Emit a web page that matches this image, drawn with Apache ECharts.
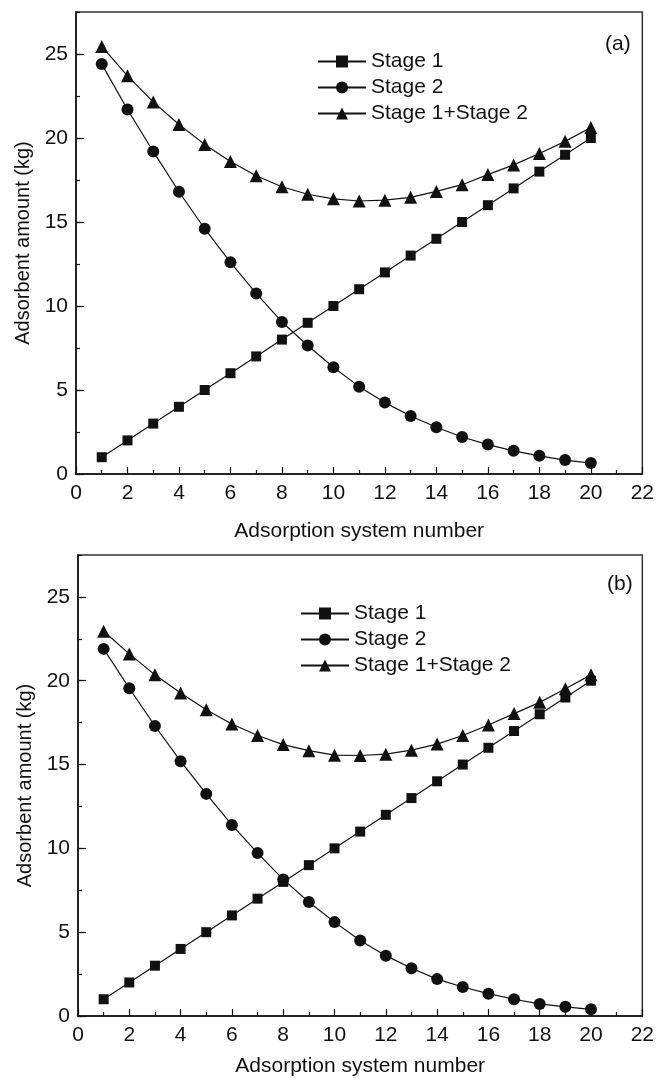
<!DOCTYPE html>
<html>
<head>
<meta charset="utf-8">
<script src="https://cdn.jsdelivr.net/npm/echarts@6/dist/echarts.min.js"></script>
<style>
  html, body { margin: 0; padding: 0; background: #fff; }
  #main { width: 657px; height: 1082px; }
</style>
</head>
<body>
<div id="main"></div>
<script>
// adsorption system number (x)
let systemNo = [1, 2, 3, 4, 5, 6, 7, 8, 9, 10, 11, 12, 13, 14, 15, 16, 17, 18, 19, 20];

// panel (a)
let stage1A = [1, 2, 3, 4, 5, 6, 7, 8, 9, 10, 11, 12, 13, 14, 15, 16, 17, 18, 19, 20];
let stage2A = [24.4, 21.7, 19.2, 16.8, 14.6, 12.6, 10.75, 9.05, 7.65, 6.35, 5.2, 4.25, 3.45, 2.78, 2.2, 1.75, 1.38, 1.08, 0.83, 0.65];
let totalA = [25.45, 23.7, 22.15, 20.8, 19.62, 18.6, 17.75, 17.1, 16.65, 16.38, 16.25, 16.3, 16.47, 16.82, 17.22, 17.82, 18.4, 19.08, 19.8, 20.62];

// panel (b)
let stage1B = [1, 2, 3, 4, 5, 6, 7, 8, 9, 10, 11, 12, 13, 14, 15, 16, 17, 18, 19, 20];
let stage2B = [21.9, 19.55, 17.3, 15.2, 13.25, 11.4, 9.72, 8.15, 6.8, 5.6, 4.5, 3.6, 2.85, 2.2, 1.73, 1.33, 1.0, 0.72, 0.55, 0.4];
let totalB = [22.95, 21.6, 20.35, 19.27, 18.27, 17.42, 16.73, 16.19, 15.83, 15.56, 15.54, 15.62, 15.86, 16.22, 16.73, 17.36, 18.04, 18.71, 19.52, 20.35];

let seriesNames = ['Stage 1', 'Stage 2', 'Stage 1+Stage 2'];
let panelLabels = ['(a)', '(b)'];

let font = 'Liberation Sans, Arial, sans-serif';
let ink = '#111';
let fs = 21;

let pairs = arr => systemNo.map((x, i) => [x, arr[i]]);

let xAxisFor = (gridIndex, gap) => ({
    type: 'value',
    gridIndex: gridIndex,
    min: 0,
    max: 22,
    interval: 2,
    name: 'Adsorption system number',
    nameLocation: 'middle',
    nameGap: gap,
    nameTextStyle: { fontFamily: font, fontSize: fs, color: ink },
    axisLine: { show: true, lineStyle: { color: ink, width: 1.5 } },
    axisTick: { show: true, inside: true, length: 7, lineStyle: { color: ink, width: 1.2 } },
    minorTick: { show: true, splitNumber: 2, length: 4, lineStyle: { color: ink, width: 1.2 } },
    axisLabel: { fontFamily: font, fontSize: fs, color: ink, margin: 9 },
    splitLine: { show: false }
});

// labelled axis, major ticks every 5
let yMajor = gridIndex => ({
    type: 'value',
    gridIndex: gridIndex,
    position: 'left',
    min: 0,
    max: 27.5,
    interval: 5,
    name: 'Adsorbent amount (kg)',
    nameLocation: 'middle',
    nameGap: 42,
    nameTextStyle: { fontFamily: font, fontSize: 20, color: ink },
    axisLine: { show: true, lineStyle: { color: ink, width: 1.5 } },
    axisTick: { show: true, inside: true, length: 8, lineStyle: { color: ink, width: 1.2 } },
    axisLabel: { fontFamily: font, fontSize: fs, color: ink, margin: 8, showMaxLabel: false },
    splitLine: { show: false }
});

// minor ticks every 2.5, no labels
let yMinor = gridIndex => ({
    type: 'value',
    gridIndex: gridIndex,
    position: 'left',
    min: 0,
    max: 27.5,
    interval: 2.5,
    axisLine: { show: false },
    axisTick: { show: true, inside: true, length: 4, lineStyle: { color: ink, width: 1.2 } },
    axisLabel: { show: false },
    splitLine: { show: false }
});

let lineSeries = (name, data, symbol, size, xi, yi) => ({
    name: name,
    type: 'line',
    xAxisIndex: xi,
    yAxisIndex: yi,
    data: pairs(data),
    symbol: symbol,
    symbolSize: size,
    showAllSymbol: true,
    lineStyle: { color: ink, width: 1.2 },
    itemStyle: { color: ink, borderWidth: 0 },
    emphasis: { disabled: true },
    animation: false
});

let legendFor = (left, top) => ({
    orient: 'vertical',
    left: left,
    top: top,
    padding: 0,
    itemWidth: 48,
    itemHeight: 15,
    itemGap: 5,
    data: seriesNames,
    selectedMode: false,
    textStyle: { fontFamily: font, fontSize: fs, color: ink }
});

let option = {
    backgroundColor: '#fff',
    animation: false,
    title: [
        { text: panelLabels[0], left: 600, top: 29, textStyle: { fontFamily: font, fontSize: fs, fontWeight: 'normal', color: ink } },
        { text: panelLabels[1], left: 602, top: 569, textStyle: { fontFamily: font, fontSize: fs, fontWeight: 'normal', color: ink } }
    ],
    legend: [legendFor(317, 51), legendFor(300, 603)],
    grid: [
        { left: 76, top: 12, width: 569, height: 462, show: true, borderColor: '#333', borderWidth: 1.5 },
        { left: 78, top: 555, width: 568, height: 461, show: true, borderColor: '#333', borderWidth: 1.5 }
    ],
    xAxis: [xAxisFor(0, 47), xAxisFor(1, 40)],
    yAxis: [yMajor(0), yMinor(0), yMajor(1), yMinor(1)],
    series: [
        lineSeries(seriesNames[0], stage1A, 'rect', 10, 0, 0),
        lineSeries(seriesNames[1], stage2A, 'circle', 12, 0, 0),
        lineSeries(seriesNames[2], totalA, 'triangle', 13, 0, 0),
        lineSeries(seriesNames[0], stage1B, 'rect', 10, 1, 2),
        lineSeries(seriesNames[1], stage2B, 'circle', 12, 1, 2),
        lineSeries(seriesNames[2], totalB, 'triangle', 13, 1, 2)
    ]
};

let chart = echarts.init(document.getElementById('main'), null, { renderer: 'canvas' });
chart.setOption(option);
</script>
</body>
</html>
